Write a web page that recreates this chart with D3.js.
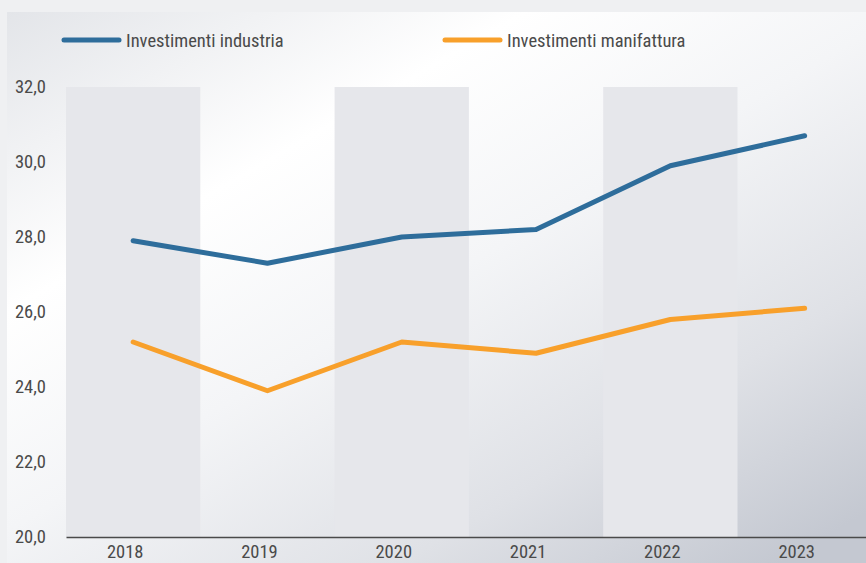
<!DOCTYPE html>
<html>
<head>
<meta charset="utf-8">
<script src="https://cdn.jsdelivr.net/npm/d3@7"></script>
<style>
  html, body { margin: 0; padding: 0; background: #eff0f2; }
  svg { display: block; }
  text { font-family: "Roboto Condensed", "Liberation Sans Narrow", "Roboto", sans-serif; font-stretch: condensed; fill: #4a4a4a; }
</style>
</head>
<body>
<svg id="chart" width="866" height="563"></svg>
<script>
const years = ["2018", "2019", "2020", "2021", "2022", "2023"];
const industria = [27.9, 27.3, 28.0, 28.2, 29.9, 30.7];
const manifattura = [25.2, 23.9, 25.2, 24.9, 25.8, 26.1];
const yTicks = [20, 22, 24, 26, 28, 30, 32];
const seriesNames = ["Investimenti industria", "Investimenti manifattura"];
const seriesColors = ["#2e6d9b", "#f8a02b"];

const svg = d3.select("#chart");
const W = 866, H = 563;
const fontSize = 18.5;

// panel background with a soft diagonal gradient
const defs = svg.append("defs");
const grad = defs.append("linearGradient")
  .attr("id", "panelGrad")
  .attr("x1", "0").attr("y1", "0").attr("x2", "0.9").attr("y2", "1");
[[0, "#e3e5e9"], [0.3, "#ffffff"], [0.52, "#f4f5f7"], [0.78, "#dfe1e6"], [1, "#c4c8d1"]]
  .forEach(([o, c]) => grad.append("stop").attr("offset", o).attr("stop-color", c));

svg.append("rect")
  .attr("x", 7).attr("y", 12).attr("width", W - 7).attr("height", H - 12)
  .attr("fill", "url(#panelGrad)");

const margin = { left: 66, top: 87, bottom: 537 };
const step = 134.3;
const x = d3.scaleBand().domain(years).range([margin.left, margin.left + step * years.length]).padding(0);
const y = d3.scaleLinear().domain([20, 32]).range([margin.bottom, margin.top]);

// alternating column bands
svg.append("g").selectAll("rect")
  .data(years.filter((d, i) => i % 2 === 0))
  .join("rect")
  .attr("x", d => x(d))
  .attr("y", y(32))
  .attr("width", x.bandwidth())
  .attr("height", y(20) - y(32))
  .attr("fill", "#e6e7eb");

// y axis labels
const yAxis = d3.axisLeft(y).tickValues(yTicks).tickSize(0).tickPadding(0)
  .tickFormat(d => d3.format(".1f")(d).replace(".", ","));
svg.append("g")
  .attr("transform", "translate(46,0)")
  .call(yAxis)
  .call(g => g.select(".domain").remove())
  .call(g => g.selectAll("text").attr("font-size", fontSize).attr("fill", "#4a4a4a").attr("font-family", null));

// x axis (labels sit slightly left of the band centres)
const xAxis = d3.axisBottom(x).tickSize(0).tickPadding(8);
svg.append("g")
  .attr("transform", `translate(0,${y(20)})`)
  .call(xAxis)
  .call(g => g.select(".domain").attr("stroke", "#4a4a4a").attr("stroke-width", 1.6))
  .call(g => g.selectAll("text").attr("dx", -8).attr("font-size", fontSize).attr("fill", "#4a4a4a").attr("font-family", null));

// lines
const line = d3.line()
  .x((d, i) => x(years[i]) + x.bandwidth() / 2)
  .y(d => y(d));

[industria, manifattura].forEach((vals, k) => {
  svg.append("path")
    .datum(vals)
    .attr("d", line)
    .attr("fill", "none")
    .attr("stroke", seriesColors[k])
    .attr("stroke-width", 5)
    .attr("stroke-linecap", "round")
    .attr("stroke-linejoin", "round");
});

// legend
const legendX = [64, 445];
seriesNames.forEach((name, k) => {
  const g = svg.append("g").attr("transform", `translate(${legendX[k]},40)`);
  g.append("line")
    .attr("x1", 0).attr("x2", 55).attr("y1", 0).attr("y2", 0)
    .attr("stroke", seriesColors[k]).attr("stroke-width", 5).attr("stroke-linecap", "round");
  g.append("text")
    .attr("x", 62).attr("y", 7)
    .attr("font-size", fontSize)
    .text(name);
});
</script>
</body>
</html>
